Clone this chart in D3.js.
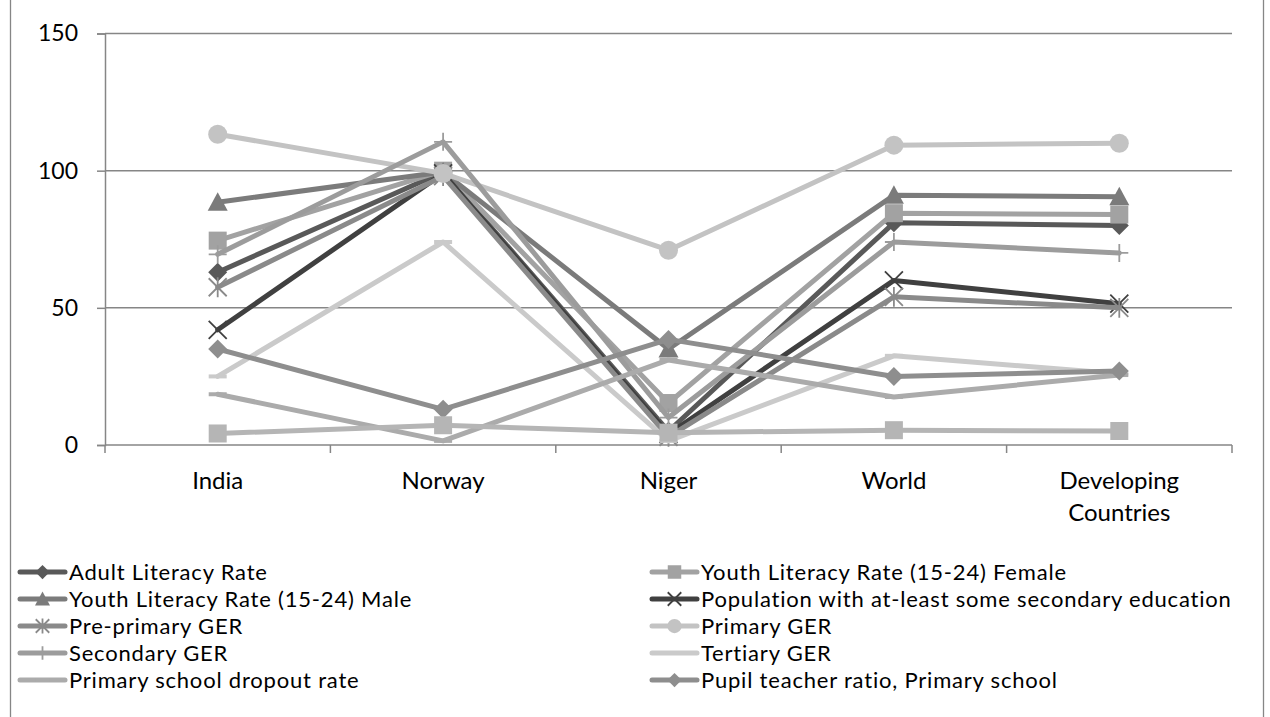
<!DOCTYPE html>
<html><head><meta charset="utf-8">
<script src="https://cdn.jsdelivr.net/npm/d3@7"></script>
<style>body{margin:0;background:#fff}svg{display:block}text{font-family:Lato,"Noto Sans",sans-serif;fill:#000}</style>
</head><body><svg id="c" width="1270" height="717"></svg>
<script>
const categories = ["India","Norway","Niger","World","Developing Countries"];
const seriesNames = ["Adult Literacy Rate","Youth Literacy Rate (15-24) Female","Youth Literacy Rate (15-24) Male","Population with at-least some secondary education","Pre-primary GER","Primary GER","Secondary GER","Tertiary GER","Primary school dropout rate","Pupil teacher ratio, Primary school","Other indicator"];
const adultLiteracy   = [63, 99.5, 5, 81, 80];
const youthFemale     = [74.5, 100, 15.3, 84.5, 84];
const youthMale       = [88.5, 99.5, 35, 91, 90.5];
const popSecondary    = [42, 99, 4, 60, 51.5];
const prePrimary      = [57.5, 98, 3, 54, 50];
const primaryGER      = [113.3, 99, 71, 109.3, 110];
const secondaryGER    = [69.5, 110.5, 10, 74, 70];
const tertiaryGER     = [25, 74, 1.5, 32.5, 26];
const dropoutRate     = [18.5, 1.5, 31, 17.5, 25.5];
const pupilTeacher    = [35, 13, 38.5, 25, 27];
const otherSeries     = [4.2, 7.2, 4.5, 5.4, 5.1];
const yTicks = [0, 50, 100, 150];

const allValues = [adultLiteracy,youthFemale,youthMale,popSecondary,prePrimary,primaryGER,secondaryGER,tertiaryGER,dropoutRate,pupilTeacher,otherSeries];
const colors  = ["#595959","#a2a2a2","#7b7b7b","#404040","#8a8a8a","#c3c3c3","#9c9c9c","#cacaca","#ababab","#8e8e8e","#b5b5b5"];
const markers = ["diamond","square","triangle","x","star","circle","plus","dash","dash","diamond","square"];
const showLegend = [true,true,true,true,true,true,true,true,true,true,false];

const svg = d3.select("#c");
const L = 105, R = 1232, T = 33.5, B = 445;
const x = d3.scaleBand().domain(categories).range([L, R]);
const y = d3.scaleLinear().domain([0,150]).range([B, T]);

// outer border
svg.append("rect").attr("x",10.5).attr("y",-5).attr("width",1253).attr("height",740).attr("fill","none").attr("stroke","#868686").attr("stroke-width",1.3);

// gridlines
svg.append("g").selectAll("line").data(yTicks.filter(d=>d>0)).join("line")
  .attr("x1",L).attr("x2",R).attr("y1",d=>y(d)).attr("y2",d=>y(d))
  .attr("stroke","#868686").attr("stroke-width",1.5);

// y axis
const ya = svg.append("g").attr("transform",`translate(${L},0)`).call(d3.axisLeft(y).tickValues(yTicks).tickSize(8).tickPadding(19));
ya.select(".domain").attr("stroke","#868686").attr("stroke-width",1.5);
ya.selectAll(".tick line").attr("stroke","#868686").attr("stroke-width",1.5);
ya.selectAll("text").style("font-size","23px").style("font-family","Lato");

// x axis
const xa = svg.append("g").attr("transform",`translate(0,${B})`).call(d3.axisBottom(x).tickSize(0).tickPadding(0));
xa.select(".domain").attr("stroke","#868686").attr("stroke-width",1.5).attr("d",`M${L},0H${R}`);
xa.selectAll(".tick text").style("font-size","24px").style("font-family","Lato").attr("y",0).attr("dy",null).each(function(d){
  const t = d3.select(this); const words = d.split(" ");
  t.text(null);
  (words.length>1? words: [d]).forEach((w,i)=>t.append("tspan").attr("x",0).attr("y",44 + i*32).text(w));
});
const bounds = categories.map(c=>x(c)).concat([R]);
svg.append("g").selectAll("line").data(bounds).join("line")
  .attr("x1",d=>d).attr("x2",d=>d).attr("y1",B).attr("y2",B+8).attr("stroke","#868686").attr("stroke-width",1.5);

function drawMarker(g, type, cx, cy, color, s){
  s = s||1;
  if (type==="diamond"){ const r=9.5*s; g.append("path").attr("d",`M${cx},${cy-r}L${cx+r},${cy}L${cx},${cy+r}L${cx-r},${cy}Z`).attr("fill",color);}
  else if (type==="square"){ const r=9*s; g.append("rect").attr("x",cx-r).attr("y",cy-r).attr("width",2*r).attr("height",2*r).attr("fill",color);}
  else if (type==="triangle"){ const r=10*s; g.append("path").attr("d",`M${cx},${cy-r}L${cx+r},${cy+r*0.85}L${cx-r},${cy+r*0.85}Z`).attr("fill",color);}
  else if (type==="circle"){ g.append("circle").attr("cx",cx).attr("cy",cy).attr("r",9.5*s).attr("fill",color);}
  else if (type==="x"){ const r=9*s; g.append("path").attr("d",`M${cx-r},${cy-r}L${cx+r},${cy+r}M${cx+r},${cy-r}L${cx-r},${cy+r}`).attr("stroke",color).attr("stroke-width",1.8).attr("fill","none");}
  else if (type==="star"){ const r=9*s; g.append("path").attr("d",`M${cx-r},${cy-r}L${cx+r},${cy+r}M${cx+r},${cy-r}L${cx-r},${cy+r}M${cx},${cy-r*1.1}L${cx},${cy+r*1.1}`).attr("stroke",color).attr("stroke-width",1.8).attr("fill","none");}
  else if (type==="plus"){ const r=9*s; g.append("path").attr("d",`M${cx-r},${cy}L${cx+r},${cy}M${cx},${cy-r}L${cx},${cy+r}`).attr("stroke",color).attr("stroke-width",1.8).attr("fill","none");}
  else if (type==="dash"){ const r=9*s; g.append("path").attr("d",`M${cx-r},${cy}L${cx+r},${cy}`).attr("stroke",color).attr("stroke-width",4).attr("fill","none");}
}

const line = d3.line().x((d,i)=>x(categories[i])+x.bandwidth()/2).y(d=>y(d));
allValues.forEach((vals,si)=>{
  const g = svg.append("g");
  g.append("path").attr("d",line(vals)).attr("fill","none").attr("stroke",colors[si]).attr("stroke-width",5).attr("stroke-linejoin","round").attr("stroke-linecap","round");
  vals.forEach((v,i)=>drawMarker(g, markers[si], x(categories[i])+x.bandwidth()/2, y(v), colors[si]));
});

// legend
const leg = svg.append("g");
seriesNames.forEach((n,i)=>{
  if(!showLegend[i]) return;
  const col = i%2, row = Math.floor(i/2);
  const lx = col? 652: 20, ly = 572 + row*27;
  const g = leg.append("g");
  g.append("line").attr("x1",lx).attr("x2",lx+45).attr("y1",ly).attr("y2",ly).attr("stroke",colors[i]).attr("stroke-width",5).attr("stroke-linecap","round");
  drawMarker(g, markers[i], lx+22.5, ly, colors[i], 0.75);
  g.append("text").attr("x",lx+49).attr("y",ly).attr("dy","0.35em").style("font-size","22px").style("letter-spacing","0.8px").text(n);
});
</script></body></html>
